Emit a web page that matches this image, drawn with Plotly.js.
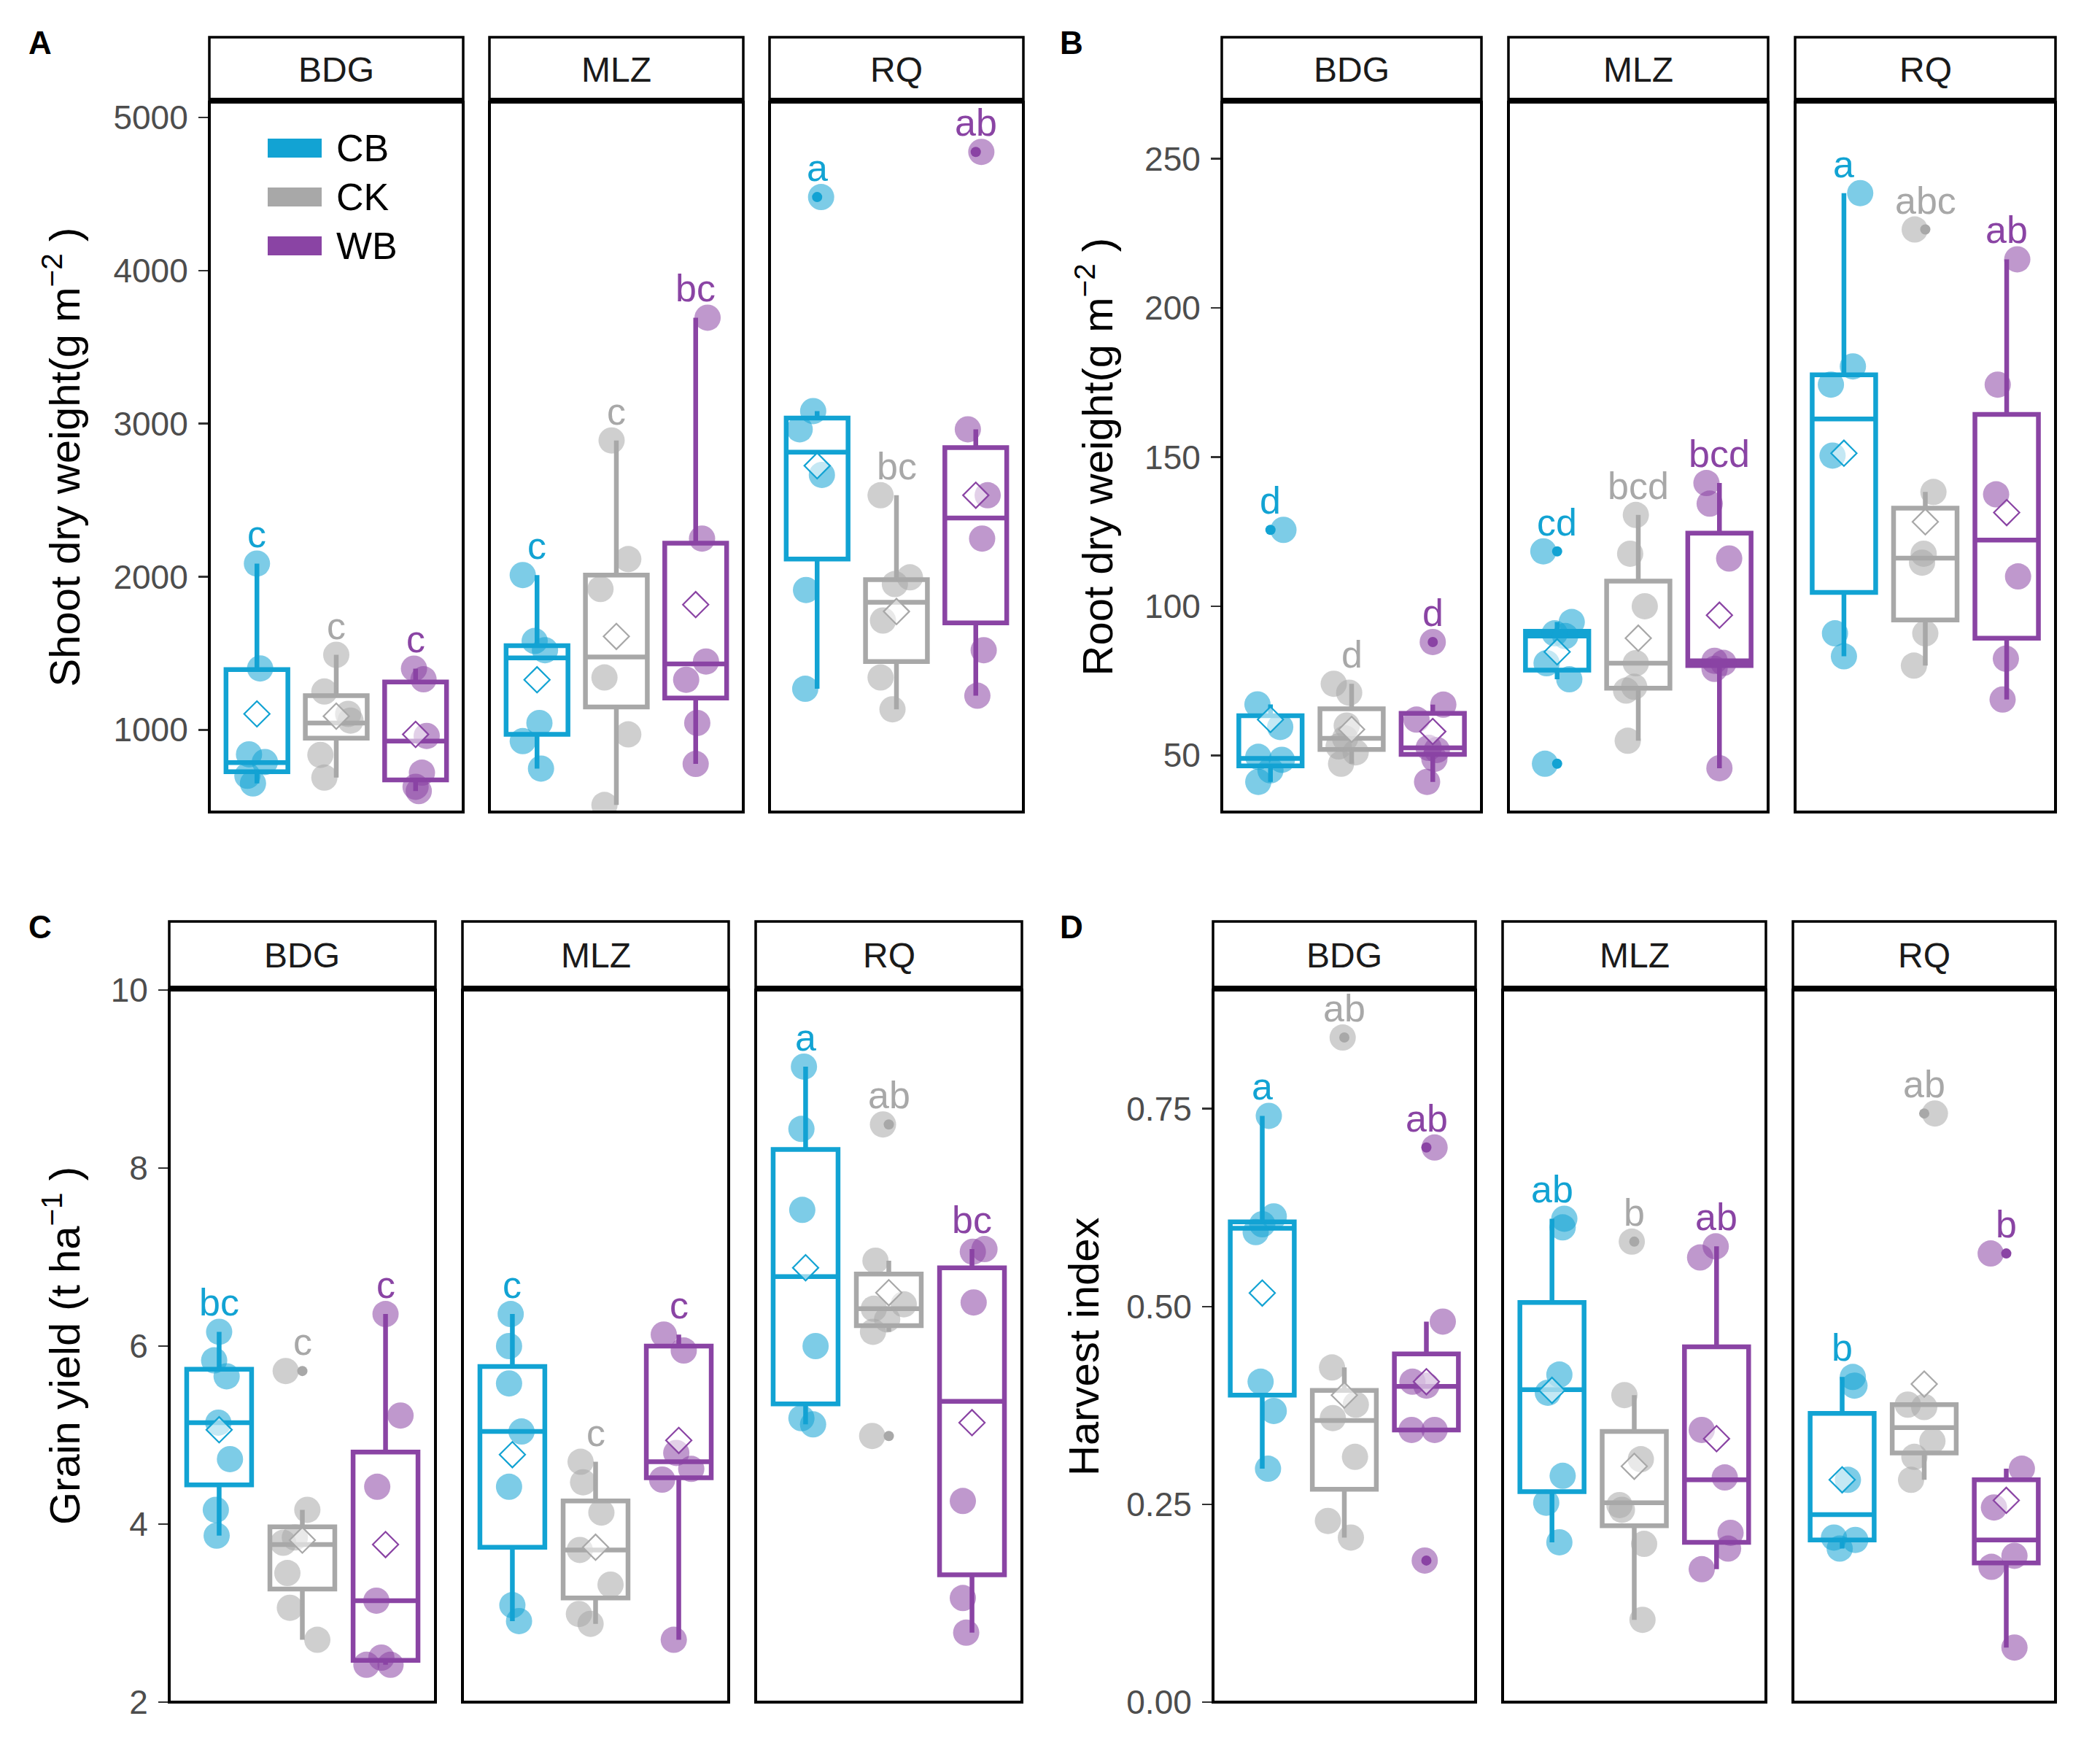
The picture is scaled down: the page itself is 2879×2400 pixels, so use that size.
<!DOCTYPE html>
<html><head><meta charset="utf-8">
<script src="https://cdn.plot.ly/plotly-3.0.1.min.js"></script>
<style>html,body{margin:0;padding:0;background:#fff}</style>
</head><body><div id="chart" style="width:2879px;height:2400px"></div>
<script>
// ---------------- DATA ----------------
// group order inside every panel: BDG-CB, BDG-CK, BDG-WB, MLZ-CB, MLZ-CK, MLZ-WB, RQ-CB, RQ-CK, RQ-WB
const sites = ['BDG', 'MLZ', 'RQ'];
const treatments = ['CB', 'CK', 'WB'];

// A: Shoot dry weight (g m-2)
const shoot_pts = [
  [2086, 1401, 840, 790, 700, 650],
  [1490, 1250, 1104, 1060, 836, 688],
  [1400, 1330, 960, 720, 628, 600],
  [2011, 1580, 1520, 1045, 926, 747],
  [2890, 2115, 1920, 1342, 970, 509],
  [3692, 2249, 1446, 1327, 1045, 777],
  [4480, 3082, 2963, 2665, 1913, 1268],
  [2532, 1996, 1952, 1714, 1342, 1134],
  [4775, 2963, 2532, 2249, 1520, 1223]
];
const shoot_jitter = [
  [0, 0.04, -0.1, 0.1, -0.12, -0.05],
  [0, -0.15, 0.15, 0.18, -0.2, -0.15],
  [-0.02, 0.1, 0.14, 0.08, 0, 0.04],
  [-0.18, -0.03, 0.1, 0.03, -0.18, 0.05],
  [-0.06, 0.15, -0.2, -0.15, 0.15, -0.15],
  [0.15, 0.08, 0.13, -0.12, 0.02, 0],
  [0.05, -0.05, -0.22, 0.06, -0.14, -0.15],
  [-0.2, 0.17, -0.02, -0.17, -0.2, -0.05],
  [0.07, -0.1, 0.15, 0.08, 0.1, 0.02]
];
const shoot_q1 = [726, 946, 673, 970, 1149, 1208, 2115, 1446, 1699];
const shoot_median = [786, 1045, 926, 1470, 1476, 1431, 2814, 1833, 2383];
const shoot_q3 = [1393, 1223, 1312, 1550, 2011, 2219, 3037, 1981, 2844];
const shoot_low = [650, 688, 600, 747, 509, 777, 1268, 1134, 1223];
const shoot_high = [2086, 1490, 1400, 2011, 2890, 3692, 3082, 2532, 2963];
const shoot_mean = [1104, 1089, 970, 1327, 1610, 1818, 2725, 1773, 2532];
const shoot_outliers = [[], [], [], [], [], [], [4480], [], [4775]];
const shoot_letters = ['c', 'c', 'c', 'c', 'c', 'bc', 'a', 'bc', 'ab'];

// B: Root dry weight (g m-2)
const root_pts = [
  [125.6, 67.1, 59.5, 49.5, 48.5, 45, 41.1],
  [74, 71, 60, 55.7, 53, 51, 47.2],
  [88, 67, 62, 52.5, 51.8, 48.8, 41.1],
  [118.4, 94.7, 90.9, 90, 80.9, 75.5, 47.2],
  [130.6, 117.6, 100, 80.9, 73, 71.7, 54.9],
  [141.3, 134.4, 116, 81.7, 81, 79, 45.7],
  [238.5, 180.4, 174.3, 150.5, 90.9, 83.2],
  [226.3, 138.3, 117.6, 114.6, 90.9, 80.1],
  [216.3, 174.3, 137.5, 110, 82.4, 68.7]
];
const root_jitter = [
  [0.16, -0.16, 0.12, -0.15, 0.14, 0, -0.15],
  [-0.22, -0.03, -0.06, -0.08, -0.16, 0.05, -0.13],
  [0, 0.13, -0.2, -0.05, 0.05, 0.02, -0.07],
  [-0.17, 0.18, -0.03, 0.1, -0.13, 0.15, -0.15],
  [-0.03, -0.1, 0.08, -0.03, -0.05, -0.15, -0.13],
  [-0.16, -0.12, 0.12, -0.06, 0.05, -0.06, 0],
  [0.2, 0.11, -0.16, -0.14, -0.11, 0],
  [-0.13, 0.1, -0.02, -0.04, 0, -0.14],
  [0.13, -0.11, -0.13, 0.14, -0.01, -0.05]
];
const root_q1 = [46.5, 52, 50.3, 78.6, 72.5, 80.1, 104.6, 95.4, 89.3];
const root_median = [49, 55.7, 52.5, 90, 80.9, 81.7, 162.8, 116.1, 122.2];
const root_q3 = [63.3, 65.6, 64.1, 91.6, 108.4, 124.5, 177.6, 132.9, 164.3];
const root_low = [41.1, 47.2, 41.1, 75.5, 54.9, 45.7, 83.2, 80.1, 68.7];
const root_high = [67.1, 74, 67, 94.7, 130.6, 141.3, 238.5, 138.3, 216.3];
const root_mean = [62, 58.7, 58, 84.7, 89.3, 97, 151.3, 128.3, 131.4];
const root_outliers = [[125.6], [], [88], [118.4, 47.2], [], [], [], [226.3], []];
const root_letters = ['d', 'd', 'd', 'cd', 'bcd', 'bcd', 'a', 'abc', 'ab'];

// C: Grain yield (t ha-1)
const grain_pts = [
  [6.16, 5.84, 5.66, 5.14, 4.73, 4.16, 3.87],
  [5.72, 4.16, 3.85, 3.79, 3.45, 3.06, 2.70],
  [6.36, 5.22, 4.42, 3.14, 2.50, 2.42, 2.42],
  [6.36, 6.0, 5.58, 5.04, 4.42, 3.09, 2.91],
  [4.70, 4.47, 4.13, 3.71, 3.32, 2.99, 2.88],
  [6.13, 5.95, 4.80, 4.62, 4.50, 2.70],
  [9.14, 8.44, 7.53, 6.0, 5.19, 5.12],
  [8.49, 6.96, 6.47, 6.42, 6.3, 6.16, 4.99],
  [7.09, 7.06, 6.49, 4.26, 3.17, 2.78]
];
const grain_jitter = [
  [0, -0.06, 0.09, -0.01, 0.13, -0.04, -0.03],
  [-0.2, 0.06, -0.09, -0.23, -0.18, -0.15, 0.18],
  [0, 0.18, -0.1, -0.11, -0.05, -0.23, 0.06],
  [-0.02, -0.04, -0.04, 0.11, -0.04, 0, 0.08],
  [-0.18, -0.15, 0.07, -0.19, 0.18, -0.2, -0.06],
  [-0.18, 0.06, -0.03, 0.15, -0.2, -0.06],
  [-0.02, -0.05, -0.04, 0.12, -0.05, 0.09],
  [-0.07, -0.16, 0.18, -0.18, -0.02, -0.19, -0.2],
  [0.15, 0.01, 0.02, -0.11, -0.11, -0.07]
];
const grain_q1 = [4.44, 3.27, 2.47, 3.74, 3.17, 4.52, 5.35, 6.23, 3.43];
const grain_median = [5.14, 3.77, 3.14, 5.04, 3.71, 4.70, 6.78, 6.42, 5.38];
const grain_q3 = [5.74, 3.97, 4.81, 5.77, 4.26, 6.0, 8.21, 6.81, 6.88];
const grain_low = [3.87, 2.70, 2.42, 2.91, 2.88, 2.70, 5.12, 6.16, 2.78];
const grain_high = [6.16, 4.16, 6.36, 6.36, 4.70, 6.13, 9.14, 6.96, 7.09];
const grain_mean = [5.06, 3.82, 3.77, 4.78, 3.74, 4.94, 6.88, 6.60, 5.14];
const grain_outliers = [[], [5.72], [], [], [], [], [], [8.49, 4.99], []];
const grain_letters = ['bc', 'c', 'c', 'c', 'c', 'c', 'a', 'ab', 'bc'];

// D: Harvest index
const hi_pts = [
  [0.741, 0.614, 0.604, 0.594, 0.405, 0.368, 0.295],
  [0.840, 0.423, 0.376, 0.359, 0.31, 0.229, 0.208],
  [0.701, 0.481, 0.405, 0.40, 0.344, 0.344, 0.179],
  [0.611, 0.60, 0.414, 0.391, 0.286, 0.252, 0.202],
  [0.582, 0.388, 0.307, 0.249, 0.243, 0.2, 0.104],
  [0.576, 0.562, 0.344, 0.284, 0.214, 0.194, 0.168],
  [0.411, 0.40, 0.281, 0.208, 0.205, 0.194],
  [0.744, 0.376, 0.373, 0.33, 0.31, 0.281],
  [0.567, 0.295, 0.246, 0.185, 0.171, 0.069]
];
const hi_jitter = [
  [0.08, 0.14, 0, -0.08, -0.02, 0.14, 0.07],
  [-0.02, -0.15, 0.14, -0.14, 0.13, -0.2, 0.08],
  [0.1, 0.2, -0.17, 0.0, -0.18, 0.1, -0.02],
  [0.15, 0.13, 0.09, -0.05, 0.13, -0.07, 0.09],
  [-0.03, -0.12, 0.08, -0.18, -0.15, 0.12, 0.1],
  [-0.01, -0.2, -0.18, 0.1, 0.17, 0.14, -0.18],
  [0.13, 0.15, 0.07, -0.1, 0.16, -0.03],
  [0.13, -0.2, 0, 0.1, -0.12, -0.16],
  [-0.19, 0.19, -0.15, 0.1, -0.18, 0.1]
];
const hi_q1 = [0.388, 0.269, 0.344, 0.266, 0.223, 0.202, 0.205, 0.315, 0.176];
const hi_median = [0.599, 0.356, 0.399, 0.395, 0.252, 0.281, 0.237, 0.347, 0.205];
const hi_q3 = [0.607, 0.394, 0.440, 0.505, 0.342, 0.449, 0.365, 0.376, 0.281];
const hi_low = [0.295, 0.208, 0.344, 0.202, 0.104, 0.168, 0.194, 0.281, 0.069];
const hi_high = [0.741, 0.423, 0.481, 0.611, 0.388, 0.576, 0.411, 0.376, 0.295];
const hi_mean = [0.517, 0.388, 0.405, 0.394, 0.298, 0.333, 0.281, 0.402, 0.255];
const hi_outliers = [[], [0.840], [0.701, 0.179], [], [0.582], [], [], [0.744], [0.567]];
const hi_letters = ['a', 'ab', 'ab', 'ab', 'b', 'ab', 'b', 'ab', 'b'];

const panel_labels = ['A', 'B', 'C', 'D'];
const y_titles = ['Shoot dry weight(g m<sup>\u22122</sup> )', 'Root dry weight(g m<sup>\u22122</sup> )',
                  'Grain yield (t ha<sup>\u22121</sup> )', 'Harvest index'];
const y_tickvals = [[1000, 2000, 3000, 4000, 5000], [50, 100, 150, 200, 250], [2, 4, 6, 8, 10], [0, 0.25, 0.5, 0.75]];
const y_ticktext = [['1000', '2000', '3000', '4000', '5000'], ['50', '100', '150', '200', '250'],
                    ['2', '4', '6', '8', '10'], ['0.00', '0.25', '0.50', '0.75']];

// ---------------- STYLE / GEOMETRY ----------------
const W = 2879, H = 2400;
const FONT = 'Liberation Sans, Arial, Helvetica, sans-serif';
const colors = {CB: '#12A3D3', CK: '#A8A8A8', WB: '#8A44A4'};
const panelGeom = [
  {cols: [[287, 635], [671, 1019], [1055, 1403]], top: 140, bot: 1113, stripTop: 51, range: [463, 5100], lab: [55, 59], ytx: 84},
  {cols: [[1675, 2031], [2068, 2424], [2461, 2818]], top: 140, bot: 1113, stripTop: 51, range: [31, 269], lab: [1469, 59], ytx: 1500},
  {cols: [[232, 597], [634, 999], [1036, 1401]], top: 1357, bot: 2333, stripTop: 1263, range: [2, 10], lab: [55, 1270], ytx: 84},
  {cols: [[1663, 2023], [2060, 2421], [2458, 2818]], top: 1357, bot: 2333, stripTop: 1263, range: [0, 0.9], lab: [1469, 1270], ytx: 1485}
];
const panelData = [
  {pts: shoot_pts, jit: shoot_jitter, q1: shoot_q1, med: shoot_median, q3: shoot_q3, lo: shoot_low, hi: shoot_high, mean: shoot_mean, out: shoot_outliers, let: shoot_letters},
  {pts: root_pts, jit: root_jitter, q1: root_q1, med: root_median, q3: root_q3, lo: root_low, hi: root_high, mean: root_mean, out: root_outliers, let: root_letters},
  {pts: grain_pts, jit: grain_jitter, q1: grain_q1, med: grain_median, q3: grain_q3, lo: grain_low, hi: grain_high, mean: grain_mean, out: grain_outliers, let: grain_letters},
  {pts: hi_pts, jit: hi_jitter, q1: hi_q1, med: hi_median, q3: hi_q3, lo: hi_low, hi: hi_high, mean: hi_mean, out: hi_outliers, let: hi_letters}
];

const px = x => x / W;
const py = y => 1 - y / H;

const traces = [];
const layout = {
  width: W, height: H, margin: {l: 0, r: 0, t: 0, b: 0},
  paper_bgcolor: '#fff', plot_bgcolor: 'rgba(0,0,0,0)',
  showlegend: false, boxmode: 'overlay',
  font: {family: FONT, color: '#000'},
  shapes: [], annotations: []
};

panelGeom.forEach((g, p) => {
  const d = panelData[p];
  const yName = p === 0 ? 'yaxis' : 'yaxis' + (p + 1);
  const yRef = p === 0 ? 'y' : 'y' + (p + 1);
  const firstX = 'x' + (p * 3 === 0 ? '' : (p * 3 + 1));
  layout[yName] = {
    domain: [py(g.bot), py(g.top)], range: g.range, anchor: firstX,
    tickvals: y_tickvals[p], ticktext: y_ticktext[p],
    ticks: 'outside', ticklen: 14, tickwidth: 2.5, tickcolor: '#333',
    ticklabelstandoff: 5,
    tickfont: {size: 46, color: '#4D4D4D', family: FONT},
    showgrid: false, zeroline: false, showline: false, fixedrange: true
  };
  // y title
  layout.annotations.push({xref: 'paper', yref: 'paper', x: px(g.ytx), y: py((g.top + g.bot) / 2),
    text: y_titles[p], textangle: -90, showarrow: false, xanchor: 'center', yanchor: 'middle',
    font: {size: 58, color: '#000', family: FONT}});
  // panel letter
  layout.annotations.push({xref: 'paper', yref: 'paper', x: px(g.lab[0]), y: py(g.lab[1]),
    text: panel_labels[p], showarrow: false, xanchor: 'center', yanchor: 'middle',
    font: {size: 44, color: '#000', family: FONT, weight: 'bold'}});

  g.cols.forEach((c, s) => {
    const k = p * 3 + s;
    const xName = k === 0 ? 'xaxis' : 'xaxis' + (k + 1);
    const xRef = k === 0 ? 'x' : 'x' + (k + 1);
    layout[xName] = {domain: [px(c[0]), px(c[1])], range: [0.4, 3.6], anchor: yRef,
      visible: false, fixedrange: true, showgrid: false, zeroline: false};
    // panel border
    layout.shapes.push({type: 'rect', xref: 'paper', yref: 'paper', x0: px(c[0]), x1: px(c[1]),
      y0: py(g.bot), y1: py(g.top), line: {color: '#000', width: 4}, fillcolor: 'rgba(0,0,0,0)', layer: 'above'});
    // strip
    layout.shapes.push({type: 'rect', xref: 'paper', yref: 'paper', x0: px(c[0]), x1: px(c[1]),
      y0: py(g.top), y1: py(g.stripTop), line: {color: '#000', width: 3.5}, fillcolor: '#fff', layer: 'above'});
    layout.shapes.push({type: 'line', xref: 'paper', yref: 'paper', x0: px(c[0]), x1: px(c[1]),
      y0: py(g.top - 2), y1: py(g.top - 2), line: {color: '#000', width: 8}, layer: 'above'});
    layout.annotations.push({xref: 'paper', yref: 'paper', x: px((c[0] + c[1]) / 2), y: py((g.stripTop + g.top) / 2),
      text: sites[s], showarrow: false, xanchor: 'center', yanchor: 'middle',
      font: {size: 48, color: '#1a1a1a', family: FONT}});

    treatments.forEach((t, ti) => {
      const i = s * 3 + ti;
      const col = colors[t];
      const xpos = ti + 1;
      traces.push({type: 'box', xaxis: xRef, yaxis: yRef, x: [xpos],
        q1: [d.q1[i]], median: [d.med[i]], q3: [d.q3[i]], lowerfence: [d.lo[i]], upperfence: [d.hi[i]],
        width: 0.78, boxpoints: false, whiskerwidth: 0, line: {color: col, width: 6.5},
        fillcolor: 'rgba(255,255,255,0)', hoverinfo: 'skip', showlegend: false});
      if (d.out[i].length) {
        traces.push({type: 'scatter', mode: 'markers', xaxis: xRef, yaxis: yRef,
          x: d.out[i].map(() => xpos), y: d.out[i],
          marker: {size: 14, color: col, line: {width: 0}}, hoverinfo: 'skip', showlegend: false});
      }
      traces.push({type: 'scatter', mode: 'markers', xaxis: xRef, yaxis: yRef,
        x: d.pts[i].map((v, j) => xpos + d.jit[i][j]), y: d.pts[i],
        marker: {size: 36, color: col, opacity: 0.55, line: {width: 0}}, hoverinfo: 'skip', showlegend: false});
      traces.push({type: 'scatter', mode: 'markers', xaxis: xRef, yaxis: yRef,
        x: [xpos], y: [d.mean[i]],
        marker: {symbol: 'diamond', size: 27, color: 'rgba(255,255,255,0.55)', line: {color: col, width: 2.2}},
        hoverinfo: 'skip', showlegend: false});
      const top = Math.max(...d.pts[i], ...d.out[i]);
      layout.annotations.push({xref: xRef, yref: yRef, x: xpos, y: top, yshift: 40,
        text: d.let[i], showarrow: false, xanchor: 'center', yanchor: 'middle',
        font: {size: 52, color: col, family: FONT}});
    });
  });
});

// legend inside panel A / BDG
const legY = [203, 270, 337];
treatments.forEach((t, ti) => {
  layout.shapes.push({type: 'rect', xref: 'paper', yref: 'paper', x0: px(367), x1: px(441),
    y0: py(legY[ti] + 13), y1: py(legY[ti] - 13), line: {width: 0}, fillcolor: colors[t], layer: 'above'});
  layout.annotations.push({xref: 'paper', yref: 'paper', x: px(459), y: py(legY[ti]),
    text: t, showarrow: false, xanchor: 'left', yanchor: 'middle',
    font: {size: 52, color: '#000', family: FONT}});
});

Plotly.newPlot('chart', traces, layout, {staticPlot: true, displayModeBar: false});
</script>
</body></html>
